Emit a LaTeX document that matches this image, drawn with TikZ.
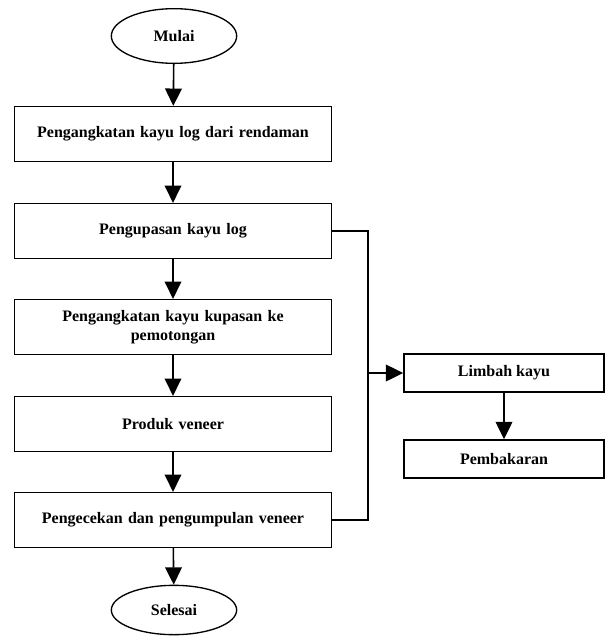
\documentclass[tikz,border=0pt]{standalone}
\usepackage{fontspec}
\setmainfont{Liberation Serif}
\usetikzlibrary{shapes.geometric,arrows.meta,positioning}

\tikzset{
  proses/.style={draw, line width=1.2pt, minimum width=238pt, minimum height=41pt,
    align=center, text width=225pt, font=\fontsize{12}{14.5}\selectfont\bfseries},
  kecil/.style={draw, line width=1.2pt, minimum width=150pt, minimum height=28.5pt,
    align=center, font=\fontsize{12}{14.5}\selectfont\bfseries},
  terminal/.style={draw, ellipse, line width=1pt, minimum width=94pt, minimum height=41pt,
    font=\fontsize{12}{14.5}\selectfont\bfseries},
  panah/.style={line width=1.2pt, -{Triangle[width=12.5pt,length=13pt]}}
}

\begin{document}
\begin{tikzpicture}[x=0.75pt, y=-0.75pt]
\useasboundingbox (0,0) rectangle (606,636);

\node[terminal] (mulai) at (174,36) {Mulai};
\node[proses] (angkat) at (173,134) {Pengangkatan kayu log dari rendaman};
\node[proses] (kupas) at (173,231) {Pengupasan kayu log};
\node[proses] (potong) at (173,327) {Pengangkatan kayu kupasan ke\\pemotongan};
\node[proses] (produk) at (173,424) {Produk veneer};
\node[proses] (cek) at (173,520) {Pengecekan dan pengumpulan veneer};
\node[terminal, minimum height=37pt] (selesai) at (174,610) {Selesai};

\node[kecil] (limbah) at (504,373) {Limbah kayu};
\node[kecil] (bakar) at (504,459) {Pembakaran};

\draw[panah] (mulai) -- (angkat);
\draw[panah] (angkat) -- (kupas);
\draw[panah] (kupas) -- (potong);
\draw[panah] (potong) -- (produk);
\draw[panah] (produk) -- (cek);
\draw[panah] (cek) -- (selesai);

% jalur limbah
\coordinate (jalur) at (368,231);
\draw[line width=1.2pt] (kupas.east) -- (jalur) |- (cek.east);
\draw[panah] (limbah.west -| jalur) -- (limbah.west);
\draw[panah] (limbah) -- (bakar);
\end{tikzpicture}
\end{document}
